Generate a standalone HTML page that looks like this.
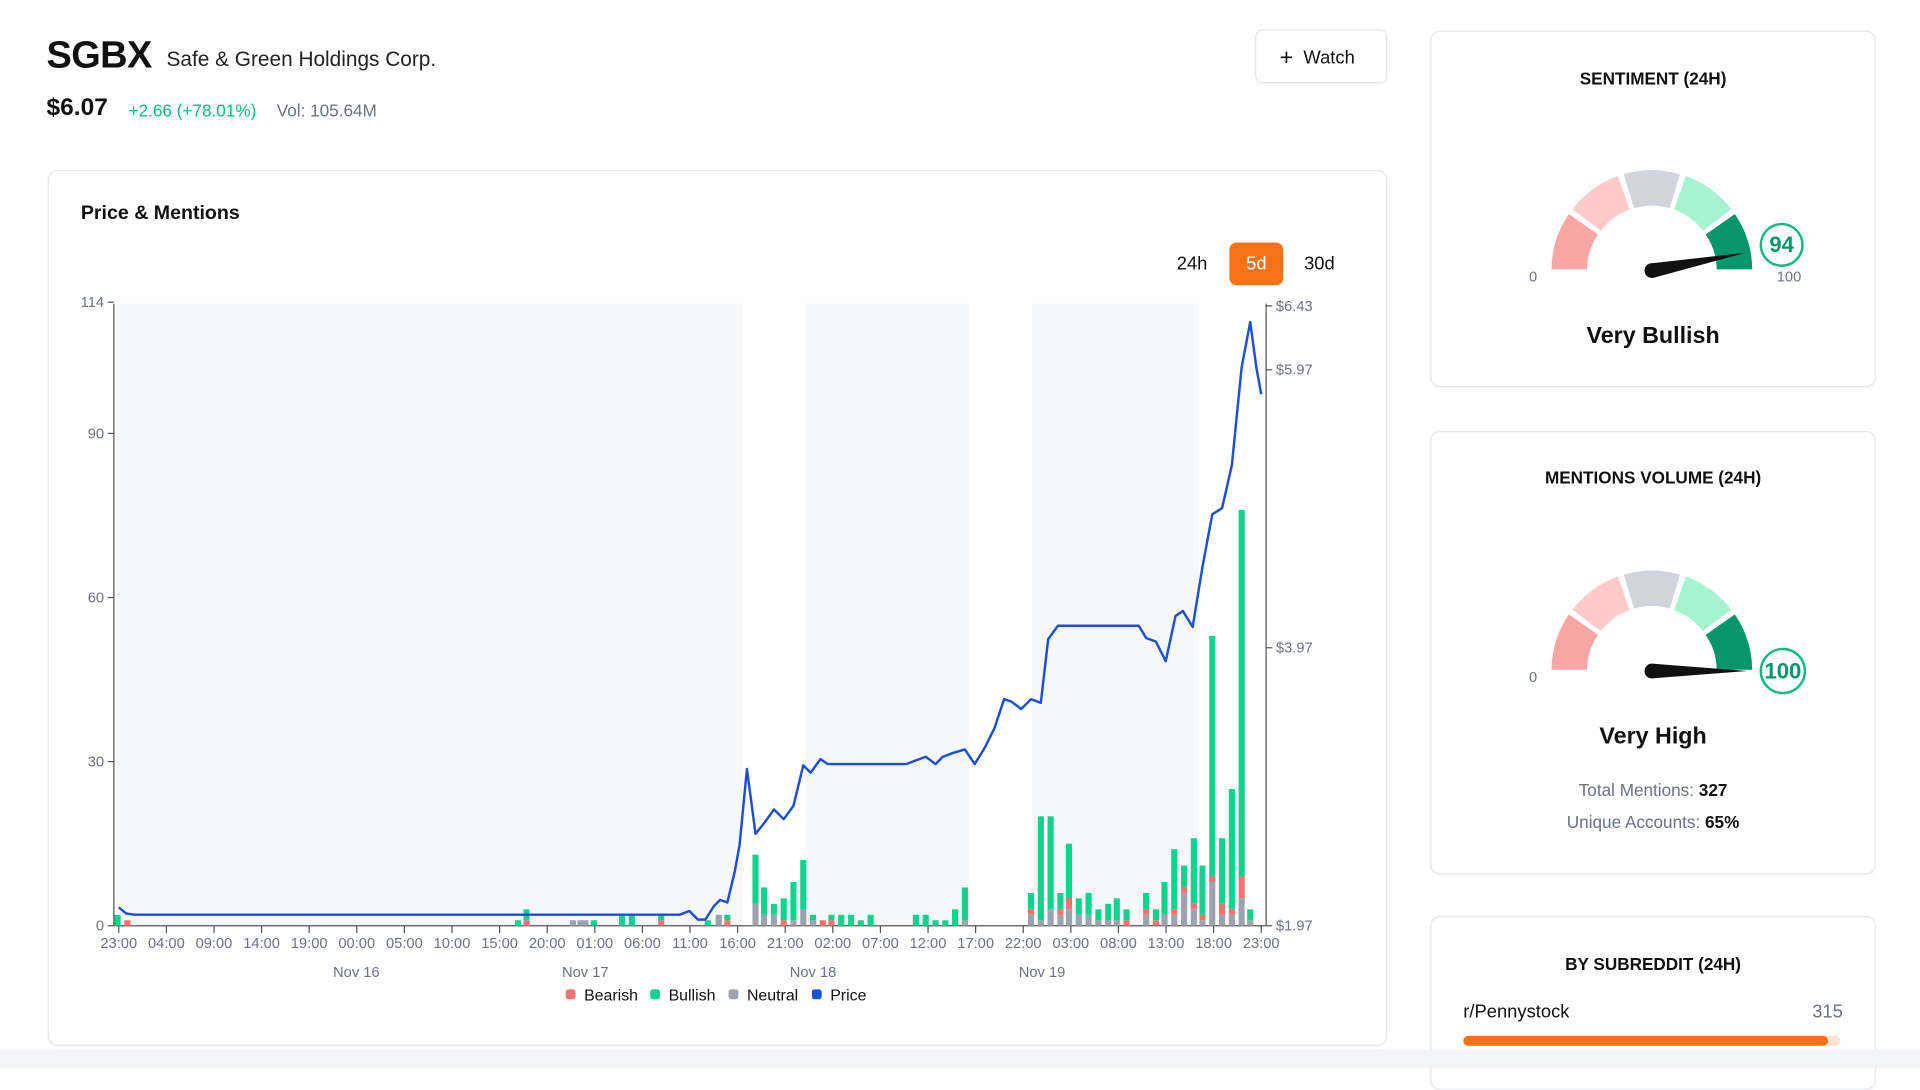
<!DOCTYPE html>
<html><head><meta charset="utf-8">
<style>
html,body{margin:0;padding:0;width:1920px;height:1063px;overflow:hidden;background:#fff;font-family:"Liberation Sans",Arial,sans-serif;}
#w{position:absolute;left:0;top:0;width:1570px;height:870px;transform:scale(1.2245);transform-origin:0 0;}
.a{position:absolute;white-space:nowrap;}
.card{position:absolute;border:1px solid #e5e7eb;border-radius:8px;background:#fff;box-shadow:0 1px 2px rgba(0,0,0,0.04);}
.t{position:absolute;left:0;right:0;text-align:center;font-weight:bold;font-size:14px;color:#111;}
</style></head><body>
<div id="w">
<div class="a" style="left:38px;top:27px;font-size:31px;font-weight:bold;color:#111;letter-spacing:-0.5px">SGBX</div>
<div class="a" style="left:136px;top:39px;font-size:17px;color:#222">Safe &amp; Green Holdings Corp.</div>
<div class="a" style="left:38px;top:77px;font-size:20px;font-weight:bold;color:#111">$6.07</div>
<div class="a" style="left:105px;top:82px;font-size:14px;color:#10b981">+2.66 (+78.01%)</div>
<div class="a" style="left:226px;top:82px;font-size:14px;color:#6b7280">Vol: 105.64M</div>
<div class="card" style="left:1025px;top:24px;width:106px;height:42px;border-radius:6px"><div class="a" style="left:19px;top:11px;font-size:15px;color:#111"><span style="font-size:19px;position:relative;top:1px">+</span>&nbsp; Watch</div></div>

<div class="card" style="left:39px;top:139px;width:1092px;height:713px"></div>
<div class="a" style="left:66px;top:166px;font-size:16px;font-weight:bold;color:#111">Price &amp; Mentions</div>
<div class="a" style="left:961px;top:207px;font-size:15px;color:#111">24h</div>
<div class="a" style="left:1004px;top:198px;width:44px;height:35px;background:#f97316;border-radius:6px;color:#fff;font-size:15px;text-align:center;line-height:35px">5d</div>
<div class="a" style="left:1065px;top:207px;font-size:15px;color:#111">30d</div>

<svg class="a" style="left:0;top:0" width="1570" height="870" id="ch"></svg>

<div class="card" style="left:1168px;top:25px;width:362px;height:289px"><div class="t" style="top:30px">SENTIMENT (24H)</div>
<div class="t" style="top:238px;font-size:19px">Very Bullish</div></div>
<div class="card" style="left:1168px;top:352px;width:362px;height:360px"><div class="t" style="top:29px">MENTIONS VOLUME (24H)</div>
<div class="t" style="top:238px;font-size:19px">Very High</div>
<div class="t" style="top:284px;font-weight:normal;color:#6b7280">Total Mentions: <b style="color:#111">327</b></div>
<div class="t" style="top:310px;font-weight:normal;color:#6b7280">Unique Accounts: <b style="color:#111">65%</b></div></div>
<div class="card" style="left:1168px;top:748px;width:362px;height:140px"><div class="t" style="top:30px">BY SUBREDDIT (24H)</div>
<div class="a" style="left:26px;top:69px;font-size:15px;color:#111">r/Pennystock</div>
<div class="a" style="right:26px;top:69px;font-size:15px;color:#6b7280">315</div>
<div class="a" style="left:26px;top:97px;width:308px;height:8px;background:#fde2d4;border-radius:4px"><div style="width:298px;height:8px;background:#f97316;border-radius:4px"></div></div></div>
<div class="a" style="left:0;top:857px;width:1570px;height:15px;background:#f3f4f6"></div>
<svg class="a" style="left:0;top:0;pointer-events:none" width="1570" height="870" id="g"></svg>
</div>
<script>
var s='';
function r(x,y,w,h,c){s+='<rect x="'+x+'" y="'+y+'" width="'+w+'" height="'+h+'" fill="'+c+'"/>';}
function tx(x,y,t,a,sz,c,w){s+='<text x="'+x+'" y="'+y+'" text-anchor="'+(a||'middle')+'" font-size="'+(sz||12)+'" fill="'+(c||'#6b7280')+'" font-family="Liberation Sans, sans-serif"'+(w?' font-weight="bold"':'')+'>'+t+'</text>';}
var B=756;
r(95,248,511,508,'#f7f8fa');r(657,248,135,508,'#f7f8fa');r(843,248,136,508,'#f7f8fa');
s+='<line x1="93" y1="248" x2="93" y2="756" stroke="#555" stroke-width="1"/>';
s+='<line x1="93" y1="756" x2="1034" y2="756" stroke="#555" stroke-width="1"/>';
s+='<line x1="1034" y1="248" x2="1034" y2="756" stroke="#555" stroke-width="1"/>';
[[0,'0'],[30,'30'],[60,'60'],[90,'90'],[114,'114']].forEach(function(v){var y=B-v[0]*4.467;s+='<line x1="88" y1="'+y+'" x2="93" y2="'+y+'" stroke="#555"/>';tx(85,y+4,v[1],'end',12);});
[[1.97,'$1.97'],[3.97,'$3.97'],[5.97,'$5.97'],[6.43,'$6.43']].forEach(function(v){var y=B-(v[0]-1.97)*113.5;s+='<line x1="1034" y1="'+y+'" x2="1039" y2="'+y+'" stroke="#555"/>';tx(1042,y+4,v[1],'start',12);});
var L=['23:00','04:00','09:00','14:00','19:00','00:00','05:00','10:00','15:00','20:00','01:00','06:00','11:00','16:00','21:00','02:00','07:00','12:00','17:00','22:00','03:00','08:00','13:00','18:00','23:00'];
L.forEach(function(l,i){var x=97+i*38.875;s+='<line x1="'+x+'" y1="756" x2="'+x+'" y2="762" stroke="#555"/>';tx(x,774,l,'middle',12);});
[[291,'Nov 16'],[478,'Nov 17'],[664,'Nov 18'],[851,'Nov 19']].forEach(function(d){tx(d[0],798,d[1],'middle',12);});
var bars=[[96,0,0,2],[104,0,1,0],[423,0,0,1],[430,0,1,2],[468,1,0,0],[474,1,0,0],[478,1,0,0],[485,0,0,1],[508,0,0,2],[516,0,0,2],[540,0,1,1],[578,0,0,1],[587,2,0,0],[594,0,1,1],[617,4,0,9],[624,2,0,5],[632,2,0,2],[640,0,1,4],[648,1,0,7],[656,3,0,9],[664,1,0,1],[672,0,1,0],[679,0,1,1],[687,0,0,2],[695,0,0,2],[703,0,0,1],[711,0,0,2],[748,0,0,2],[756,0,0,2],[764,0,0,1],[772,0,0,1],[780,0,0,3],[788,1,0,6],[842,2,1,3],[850,1,0,19],[858,3,0,17],[866,2,1,3],[873,3,2,10],[881,2,0,3],[889,2,0,4],[897,1,0,2],[905,1,0,3],[912,1,0,4],[920,0,1,2],[936,2,1,3],[944,0,1,2],[951,2,0,6],[959,2,1,11],[967,6,1,4],[975,3,1,12],[982,1,1,9],[990,8,1,44],[998,2,2,12],[1006,2,1,22],[1014,5,4,67],[1021,1,0,2]];
bars.forEach(function(b){var y=B,k=4.467;[[b[1],'#9ca3af'],[b[2],'#f87171'],[b[3],'#10d48e']].forEach(function(p){if(p[0]>0){var h=p[0]*k;y-=h;r(b[0]-2.5,y,5,h,p[1]);}});});
var P=[[97,741],[103,746],[110,747],[555,747],[563,744],[570,751],[576,751],[583,740],[588,735],[594,737],[600,712],[604,690],[610,628],[617,681],[625,671],[632,661],[640,669],[648,658],[656,625],[662,631],[670,620],[676,624],[740,624],[748,621],[756,618],[764,624],[770,618],[778,615],[788,612],[796,624],[804,611],[812,595],[820,571],[826,573],[834,579],[842,571],[850,574],[856,522],[864,511],[930,511],[936,521],[944,524],[952,540],[960,503],[966,499],[974,512],[982,463],[990,420],[998,415],[1006,380],[1014,300],[1021,263],[1026,300],[1030,322]];
s+='<polyline fill="none" stroke="#1d4ed8" stroke-width="2" stroke-linejoin="round" points="'+P.map(function(p){return p.join(',')}).join(' ')+'"/>';
[[462,'#f87171','Bearish'],[531,'#10d48e','Bullish'],[595,'#9ca3af','Neutral'],[663,'#1d4ed8','Price']].forEach(function(l){s+='<rect x="'+l[0]+'" y="808" width="8" height="8" rx="2" fill="'+l[1]+'"/>';tx(l[0]+15,817,l[2],'start',13,'#111');});
document.getElementById('ch').innerHTML=s;
s='';
function pt(cx,cy,R,a){a=a*Math.PI/180;return (cx+R*Math.cos(a)).toFixed(2)+','+(cy-R*Math.sin(a)).toFixed(2);}
function gauge(cx,cy,val,lab){
 var R=83,ri=52,cols=['#f8a5a5','#fecaca','#d1d5db','#a7f3d0','#059669'];
 for(var i=0;i<5;i++){var a1=180-i*36-(i?1:0),a2=180-(i+1)*36+(i<4?1:0);
  s+='<path d="M'+pt(cx,cy,R,a1)+' A'+R+','+R+' 0 0 1 '+pt(cx,cy,R,a2)+' L'+pt(cx,cy,ri,a2)+' A'+ri+','+ri+' 0 0 0 '+pt(cx,cy,ri,a1)+' Z" fill="'+cols[i]+'" stroke="#fff" stroke-width="2"/>';}
 var a=180-val*1.8;
 s+='<polygon points="'+pt(cx,cy,6,a+90)+' '+pt(cx,cy,78,a)+' '+pt(cx,cy,6,a-90)+'" fill="#111"/><circle cx="'+cx+'" cy="'+cy+'" r="6" fill="#111"/>';
 tx(cx-97,cy+9,'0','middle',12);
 if(val<100)tx(cx+112,cy+9,'100','middle',12);
 var bx=val<100?cx+106:cx+107,by=val<100?cy-21:cy,rr=val<100?17:18;
 s+='<circle cx="'+bx+'" cy="'+by+'" r="'+rr+'" fill="#fff" stroke="#10b981" stroke-width="2"/>';
 tx(bx,by+6,lab,'middle',18,'#059669',1);
}
gauge(1349,221,94,'94');
gauge(1349,548,100,'100');
document.getElementById('g').innerHTML=s;
</script>
</body></html>
